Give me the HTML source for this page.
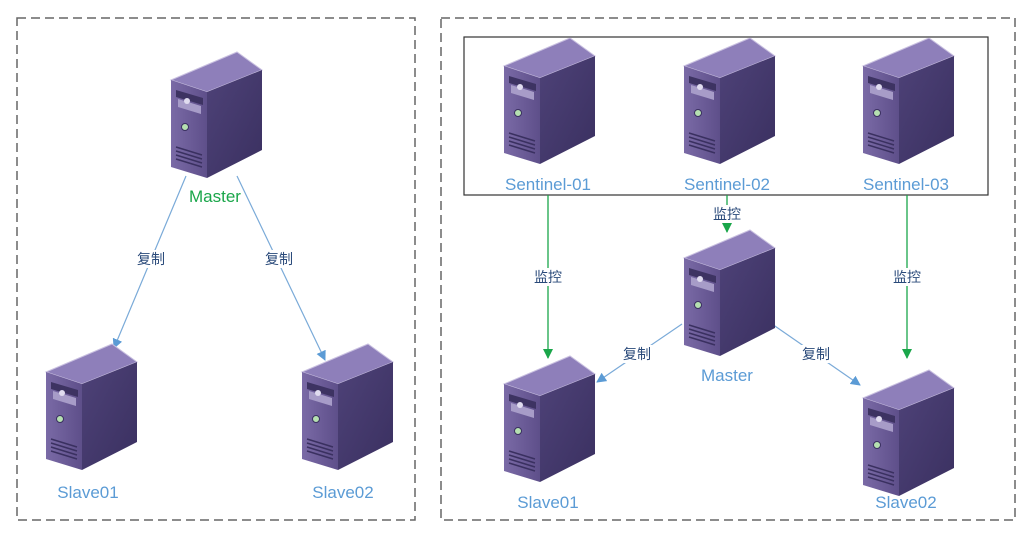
<!DOCTYPE html>
<html><head><meta charset="utf-8"><style>
body{margin:0;background:#fff;width:1028px;height:536px;overflow:hidden}
svg{display:block}
text{font-family:"Liberation Sans","Noto Sans CJK SC",sans-serif}
</style></head><body>
<svg width="1028" height="536" viewBox="0 0 1028 536">
<defs>
<linearGradient id="fr" x1="0" y1="0" x2="1" y2="0"><stop offset="0" stop-color="#7a6aa6"/><stop offset="1" stop-color="#5e4f8a"/></linearGradient>
<linearGradient id="sd" x1="0" y1="0" x2="1" y2="1"><stop offset="0" stop-color="#4e4278"/><stop offset="1" stop-color="#3a3060"/></linearGradient>
<g id="srv">
<polygon points="4,28 70,0 95,18 40,40" fill="#8e7fba" stroke="#c9c0e0" stroke-width="1"/>
<polygon points="4,28 40,40 40,126 4,115" fill="url(#fr)"/>
<polygon points="40,40 95,18 95,98 40,126" fill="url(#sd)"/>
<polygon points="9,38 36,46 36,53 9,45" fill="#3d3362"/>
<polygon points="11,47 34,54 34,62 11,55" fill="#a79cc8"/>
<circle cx="20" cy="49" r="3" fill="#e0dcef"/>
<circle cx="18" cy="75" r="3.5" fill="#b5e0b0" stroke="#3a3060"/>
<path d="M9,95 L35,103 M9,99 L35,107 M9,103 L35,111 M9,107 L35,115" stroke="#3a3060" stroke-width="1.5"/>
</g>
<marker id="ab" markerWidth="10" markerHeight="10" refX="9" refY="5" orient="auto" markerUnits="userSpaceOnUse"><path d="M0,0 L10,5 L0,10 z" fill="#5b9bd5"/></marker>
<marker id="ag" markerWidth="10" markerHeight="10" refX="9" refY="5" orient="auto" markerUnits="userSpaceOnUse"><path d="M0,0 L10,5 L0,10 z" fill="#1aa64a"/></marker>
</defs>
<rect x="17" y="18" width="398" height="502" fill="none" stroke="#666" stroke-width="1.5" stroke-dasharray="9,5"/>
<rect x="441" y="18" width="574" height="502" fill="none" stroke="#666" stroke-width="1.5" stroke-dasharray="9,5"/>
<rect x="464" y="37" width="524" height="158" fill="none" stroke="#333" stroke-width="1.2"/>

<!-- left -->
<line x1="186" y1="176" x2="114" y2="348" stroke="#7aaad8" stroke-width="1.2" marker-end="url(#ab)"/>
<line x1="237" y1="176" x2="325" y2="360" stroke="#7aaad8" stroke-width="1.2" marker-end="url(#ab)"/>
<rect x="136" y="250" width="30" height="18" fill="#fff"/>
<rect x="263" y="250" width="30" height="18" fill="#fff"/>
<text x="151" y="264" font-size="14" fill="#2a4a7a" text-anchor="middle">复制</text>
<text x="279" y="264" font-size="14" fill="#2a4a7a" text-anchor="middle">复制</text>
<use href="#srv" x="167" y="52"/>
<text x="215" y="202" font-size="17" fill="#1aa64a" text-anchor="middle">Master</text>
<use href="#srv" x="42" y="344"/>
<text x="88" y="498" font-size="17" fill="#5b9bd5" text-anchor="middle">Slave01</text>
<use href="#srv" x="298" y="344"/>
<text x="343" y="498" font-size="17" fill="#5b9bd5" text-anchor="middle">Slave02</text>

<!-- right -->
<use href="#srv" x="500" y="38"/>
<use href="#srv" x="680" y="38"/>
<use href="#srv" x="859" y="38"/>
<text x="548" y="190" font-size="17" fill="#5b9bd5" text-anchor="middle">Sentinel-01</text>
<text x="727" y="190" font-size="17" fill="#5b9bd5" text-anchor="middle">Sentinel-02</text>
<text x="906" y="190" font-size="17" fill="#5b9bd5" text-anchor="middle">Sentinel-03</text>
<line x1="548" y1="195" x2="548" y2="358" stroke="#1aa64a" stroke-width="1.3" marker-end="url(#ag)"/>
<line x1="727" y1="195" x2="727" y2="232" stroke="#1aa64a" stroke-width="1.3" marker-end="url(#ag)"/>
<line x1="907" y1="195" x2="907" y2="358" stroke="#1aa64a" stroke-width="1.3" marker-end="url(#ag)"/>
<rect x="532" y="268" width="32" height="18" fill="#fff"/>
<rect x="711" y="205" width="32" height="18" fill="#fff"/>
<rect x="891" y="268" width="32" height="18" fill="#fff"/>
<text x="548" y="282" font-size="14" fill="#2a4a7a" text-anchor="middle">监控</text>
<text x="727" y="219" font-size="14" fill="#2a4a7a" text-anchor="middle">监控</text>
<text x="907" y="282" font-size="14" fill="#2a4a7a" text-anchor="middle">监控</text>
<line x1="682" y1="324" x2="597" y2="382" stroke="#7aaad8" stroke-width="1.2" marker-end="url(#ab)"/>
<line x1="772" y1="324" x2="860" y2="385" stroke="#7aaad8" stroke-width="1.2" marker-end="url(#ab)"/>
<rect x="622" y="345" width="30" height="18" fill="#fff"/>
<rect x="801" y="345" width="30" height="18" fill="#fff"/>
<text x="637" y="359" font-size="14" fill="#2a4a7a" text-anchor="middle">复制</text>
<text x="816" y="359" font-size="14" fill="#2a4a7a" text-anchor="middle">复制</text>
<use href="#srv" x="680" y="230"/>
<text x="727" y="381" font-size="17" fill="#5b9bd5" text-anchor="middle">Master</text>
<use href="#srv" x="500" y="356"/>
<text x="548" y="508" font-size="17" fill="#5b9bd5" text-anchor="middle">Slave01</text>
<use href="#srv" x="859" y="370"/>
<text x="906" y="508" font-size="17" fill="#5b9bd5" text-anchor="middle">Slave02</text>
</svg>
</body></html>
